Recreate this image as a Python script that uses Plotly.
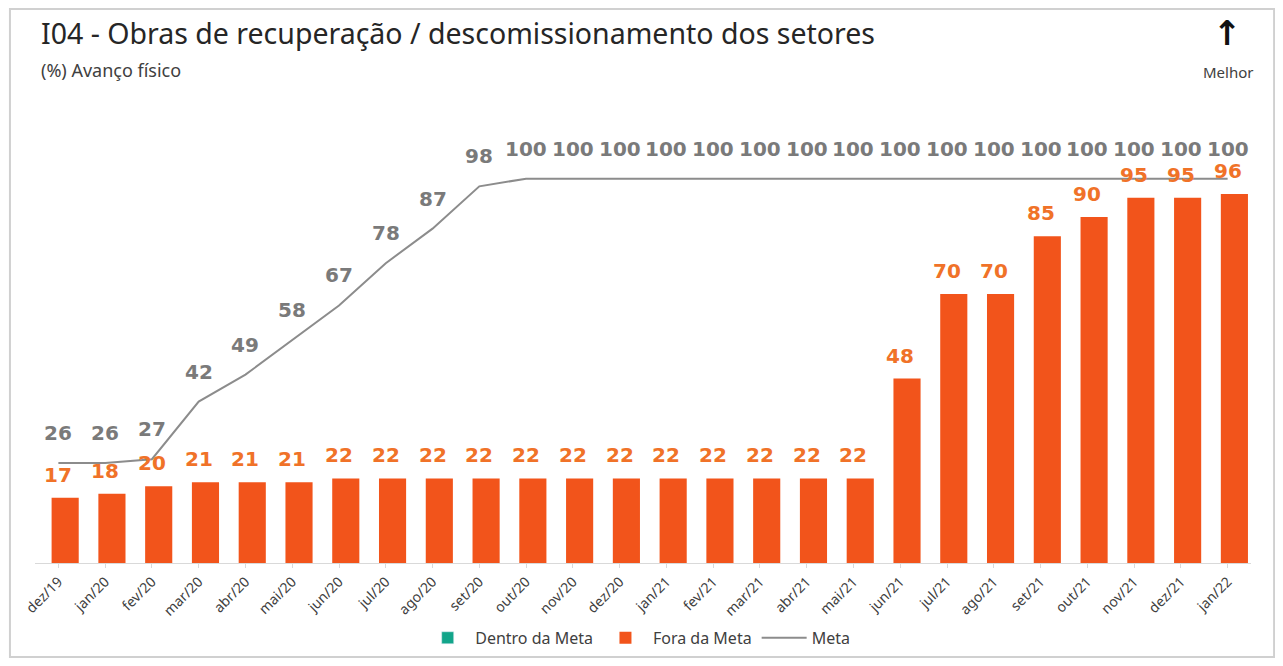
import plotly.graph_objects as go

MESES = ["dez/19", "jan/20", "fev/20", "mar/20", "abr/20", "mai/20", "jun/20",
         "jul/20", "ago/20", "set/20", "out/20", "nov/20", "dez/20", "jan/21",
         "fev/21", "mar/21", "abr/21", "mai/21", "jun/21", "jul/21", "ago/21",
         "set/21", "out/21", "nov/21", "dez/21", "jan/22"]
REALIZADO = [17, 18, 20, 21, 21, 21, 22, 22, 22, 22, 22, 22, 22, 22, 22, 22,
             22, 22, 48, 70, 70, 85, 90, 95, 95, 96]
META = [26, 26, 27, 42, 49, 58, 67, 78, 87, 98, 100, 100, 100, 100, 100, 100,
        100, 100, 100, 100, 100, 100, 100, 100, 100, 100]

COLORS = {
    "dentro": "#12a58a",
    "fora": "#f2541b",
    "fora_txt": "#f07228",
    "meta": "#8c8c8c",
    "meta_txt": "#7a7a7a",
    "text": "#262626",
    "sub": "#404040",
    "tick": "#404040",
    "border": "#d0d0d0",
}
FONT = "Noto Sans, Arial"
LABEL_FONT = "DejaVu Sans, Arial"

fig = go.Figure()

# série vazia só para a legenda
fig.add_trace(go.Bar(x=[MESES[0]], y=[None], name="Dentro da Meta",
                     marker_color=COLORS["dentro"], showlegend=True))
fig.add_trace(go.Bar(x=MESES, y=REALIZADO, name="Fora da Meta",
                     marker=dict(color=COLORS["fora"], line_width=0),
                     width=0.58))
fig.add_trace(go.Scatter(x=MESES, y=META, name="Meta", mode="lines",
                         line=dict(color=COLORS["meta"], width=2)))

annotations = []
for m, v in zip(MESES, META):
    annotations.append(dict(x=m, y=v, text=str(v), showarrow=False,
                            yshift=30, yanchor="middle",
                            font=dict(size=20, color=COLORS["meta_txt"],
                                      family=LABEL_FONT, weight="bold")))
for m, v in zip(MESES, REALIZADO):
    annotations.append(dict(x=m, y=v, text=str(v), showarrow=False,
                            yshift=23, yanchor="middle",
                            font=dict(size=20, color=COLORS["fora_txt"],
                                      family=LABEL_FONT, weight="bold")))

# textos do cabeçalho (posições em coordenadas "paper")
annotations += [
    dict(text="I04 - Obras de recuperação / descomissionamento dos setores",
         xref="paper", yref="paper", x=0.003, y=1.2, xanchor="left",
         yanchor="middle", showarrow=False,
         font=dict(size=28.5, color=COLORS["text"], family=FONT)),
    dict(text="(%) Avanço físico", xref="paper", yref="paper", x=0.003,
         y=1.115, xanchor="left", yanchor="middle", showarrow=False,
         font=dict(size=18, color=COLORS["sub"], family=FONT)),
    dict(text="↑", xref="paper", yref="paper", x=0.981, y=1.2,
         xanchor="center", yanchor="middle", showarrow=False,
         font=dict(size=34, color="#111111", family=LABEL_FONT, weight="bold")),
    dict(text="Melhor", xref="paper", yref="paper", x=0.981, y=1.11,
         xanchor="center", yanchor="middle", showarrow=False,
         font=dict(size=15, color=COLORS["sub"], family=FONT)),
]

# o body da página tem 8px de margem, por isso 1267x650
fig.update_layout(
    width=1267, height=650,
    paper_bgcolor="white", plot_bgcolor="white",
    margin=dict(l=27, r=24, t=113, b=95),
    bargap=0.42,
    font=dict(family=FONT, color=COLORS["tick"]),
    xaxis=dict(type="category", tickangle=-45, showgrid=False,
               automargin=False,
               tickfont=dict(size=14, color=COLORS["tick"]),
               showline=True, linecolor="#d9d9d9", ticks="outside",
               ticklen=4, tickcolor="#d9d9d9"),
    yaxis=dict(range=[0, 115], visible=False, showgrid=False,
               automargin=False),
    legend=dict(orientation="h", x=0.497, xanchor="center",
                xref="container", yref="container", y=0.031,
                yanchor="middle", font=dict(size=16, color=COLORS["sub"]),
                itemwidth=45, traceorder="normal"),
    annotations=annotations,
    shapes=[dict(type="rect", xref="paper", yref="paper",
                 x0=-0.0206, x1=1.019, y0=-0.2127, y1=1.2534,
                 line=dict(color=COLORS["border"], width=2))],
)

fig.write_html("out.html")
